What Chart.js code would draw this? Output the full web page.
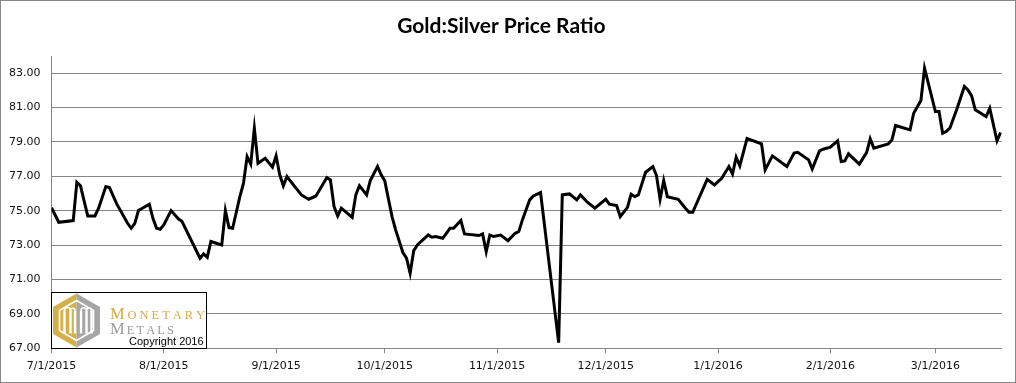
<!DOCTYPE html>
<html><head><meta charset="utf-8">
<script src="https://cdn.jsdelivr.net/npm/chart.js@4.4.1/dist/chart.umd.min.js"></script>
<style>
html,body{margin:0;padding:0;background:#fff;}
#wrap{width:1014px;height:381px;border:1px solid #878787;}
canvas{display:block;}
</style></head><body>
<div id="wrap"><canvas id="c" width="1014" height="381"></canvas></div>
<script>
const chartTitle = 'Gold:Silver Price Ratio';
const startDate = [2015, 6, 1]; // 7/1/2015
const dayOffsets = [0,2,6,7,8,10,12,13,15,16,18,21,22,23,24,27,28,29,30,31,33,35,36,41,42,43,44,47,48,49,50,52,53,54,55,56,57,59,61,62,63,64,65,67,69,71,73,76,77,78,79,80,83,84,85,87,88,90,91,92,94,95,97,98,99,100,101,102,104,105,106,108,110,111,113,114,118,119,120,121,122,124,126,128,129,130,132,133,135,140,141,143,145,146,148,150,153,154,156,157,159,160,161,162,164,166,167,168,169,170,173,175,176,177,181,183,185,187,188,189,190,192,196,197,199,203,205,206,209,210,212,213,215,217,218,219,220,223,225,226,227,231,232,233,237,238,240,241,244,245,246,247,248,250,252,253,254,255,258,259,261,262];
const ratioValues = [75.18,74.33,74.43,76.66,76.45,74.70,74.70,75.15,76.41,76.35,75.40,74.27,73.98,74.27,75.01,75.38,74.56,73.98,73.92,74.18,75.01,74.53,74.39,72.24,72.49,72.29,73.21,73.01,75.01,74.02,73.98,75.82,76.60,78.15,77.71,79.80,77.76,78.05,77.53,78.19,77.09,76.45,76.99,76.45,75.92,75.67,75.86,76.93,76.79,75.24,74.70,75.15,74.62,75.92,76.46,75.92,76.76,77.57,77.09,76.74,74.66,73.89,72.57,72.24,71.36,72.68,73.01,73.21,73.59,73.46,73.50,73.40,73.98,73.98,74.43,73.65,73.56,73.65,72.62,73.59,73.50,73.59,73.26,73.69,73.79,74.47,75.63,75.86,76.06,67.33,75.92,75.98,75.63,75.92,75.48,75.15,75.67,75.38,75.30,74.66,75.20,75.96,75.82,75.92,77.24,77.57,77.05,75.67,76.76,75.82,75.67,75.15,74.91,74.91,76.83,76.50,76.89,77.57,77.14,78.11,77.61,79.20,78.89,77.38,78.19,77.57,78.35,78.40,77.96,77.43,78.48,78.58,78.70,79.06,77.86,77.90,78.31,77.71,78.38,79.18,78.64,78.89,79.12,79.96,79.70,80.67,81.41,83.29,80.77,80.77,79.51,79.61,79.80,80.96,82.23,82.03,81.68,80.87,80.48,80.96,79.06,79.55];
const monthTickDays = [0,31,62,92,123,153,184,215,244];
const yTickValues = [67,69,71,73,75,77,79,81,83];
const yMin = 67, yMax = 84, xMax = 262.3;

const points = dayOffsets.map((d,i)=>({x:d, y:ratioValues[i]}));
const dayToLabel = d => {
  const dt = new Date(Date.UTC(startDate[0], startDate[1], startDate[2]) + d*86400000);
  return (dt.getUTCMonth()+1) + '/' + dt.getUTCDate() + '/' + dt.getUTCFullYear();
};

function drawSpaced(ctx, text, x, y, bigSize, smallSize, totalW, color){
  ctx.fillStyle = color;
  const big = bigSize + 'px "Liberation Serif"', small = smallSize + 'px "Liberation Serif"';
  ctx.font = big; const w0 = ctx.measureText(text[0]).width;
  ctx.font = small;
  const rest = text.slice(1).split('');
  const ws = rest.map(c=>ctx.measureText(c).width);
  const sum = w0 + ws.reduce((a,b)=>a+b,0);
  const sp = (totalW - sum) / rest.length;
  ctx.font = big; ctx.fillText(text[0], x, y);
  let cx = x + w0 + sp;
  ctx.font = small;
  rest.forEach((c,i)=>{ ctx.fillText(c, cx, y); cx += ws[i] + sp; });
}

const logoPlugin = {
  id: 'logo',
  afterDraw(chart){
    const ctx = chart.ctx;
    ctx.save();
    ctx.fillStyle = '#fff';
    ctx.fillRect(50, 291, 156, 56.5);
    ctx.strokeStyle = '#000'; ctx.lineWidth = 1;
    ctx.strokeRect(50.5, 291.5, 155, 56);
    const cx = 75.5, cy = 319.5, hw = 23.5, top = 292.5, bot = 346.5, s = 13.6;
    ctx.beginPath();
    ctx.moveTo(cx, top); ctx.lineTo(cx-hw, cy-s); ctx.lineTo(cx-hw, cy+s); ctx.lineTo(cx, bot); ctx.closePath();
    ctx.fillStyle = '#D5B04A'; ctx.fill();
    ctx.beginPath();
    ctx.moveTo(cx, top); ctx.lineTo(cx+hw, cy-s); ctx.lineTo(cx+hw, cy+s); ctx.lineTo(cx, bot); ctx.closePath();
    ctx.fillStyle = '#A6A6A6'; ctx.fill();
    ctx.strokeStyle = '#fff'; ctx.lineWidth = 1.6;
    const ihw = 17, is = 10, it = top+7, ib = bot-7;
    ctx.beginPath();
    ctx.moveTo(cx, it); ctx.lineTo(cx+ihw, cy-is); ctx.lineTo(cx+ihw, cy+is); ctx.lineTo(cx, ib);
    ctx.lineTo(cx-ihw, cy+is); ctx.lineTo(cx-ihw, cy-is); ctx.closePath(); ctx.stroke();
    ctx.lineWidth = 2.4;
    [-12,-6,-1.5,4.5,10,15].forEach(o=>{
      ctx.beginPath(); ctx.moveTo(cx+o, cy-10); ctx.lineTo(cx+o, cy+13); ctx.stroke();
    });
    ctx.lineWidth = 1.6;
    ctx.beginPath(); ctx.arc(cx-9, cy-10, 3, Math.PI, 0); ctx.stroke();
    ctx.beginPath(); ctx.arc(cx-3.75, cy-10, 2.25, Math.PI, 0); ctx.stroke();
    ctx.beginPath(); ctx.arc(cx+7.25, cy-10, 2.75, Math.PI, 0); ctx.stroke();
    ctx.beginPath(); ctx.arc(cx+12.5, cy-10, 2.5, Math.PI, 0); ctx.stroke();
    ctx.textBaseline = 'alphabetic'; ctx.textAlign = 'left';
    drawSpaced(ctx, 'MONETARY', 109, 317.7, 16.5, 12.5, 95, '#D2AC45');
    drawSpaced(ctx, 'METALS', 109, 332.5, 16.5, 12.5, 64, '#9C9C9C');
    ctx.fillStyle = '#000'; ctx.font = '11px "Liberation Sans"';
    ctx.fillText('Copyright 2016', 128, 343.5);
    ctx.restore();
  }
};

new Chart(document.getElementById('c'), {
  type: 'line',
  data: { datasets: [{
    data: points, borderColor: '#000', borderWidth: 3, pointRadius: 0, tension: 0,
    fill: false, borderJoinStyle: 'miter'
  }]},
  options: {
    responsive: false, animation: false,
    layout: { padding: { left: 0, right: 13.3, top: 0, bottom: 0 } },
    plugins: {
      legend: { display: false }, tooltip: { enabled: false },
      title: { display: true, text: chartTitle, color: '#000',
        font: { family: 'Lato', size: 21, weight: 'bold' }, padding: { top: 12.4, bottom: 17.4 } }
    },
    scales: {
      x: {
        type: 'linear', min: 0, max: xMax,
        afterBuildTicks: s => { s.ticks = monthTickDays.map(v=>({value:v})); },
        afterFit: s => { s.height = 33.7; },
        grid: { drawOnChartArea: false, drawTicks: true, tickLength: 5, color: '#868686' },
        border: { color: '#868686', width: 1 },
        ticks: { callback: v => dayToLabel(v), color: '#111', padding: 6, maxRotation: 0, autoSkip: false,
          font: { family: 'DejaVu Sans', size: 11 } }
      },
      y: {
        type: 'linear', min: yMin, max: yMax,
        afterBuildTicks: s => { s.ticks = yTickValues.map(v=>({value:v})); },
        afterFit: s => { s.width = 50.5; },
        grid: { color: '#868686', drawTicks: false, lineWidth: 1 },
        border: { color: '#868686', width: 1 },
        ticks: { callback: v => Number(v).toFixed(2), color: '#111', padding: 11,
          font: { family: 'DejaVu Sans', size: 11 } }
      }
    }
  },
  plugins: [logoPlugin]
});
</script>
</body></html>
